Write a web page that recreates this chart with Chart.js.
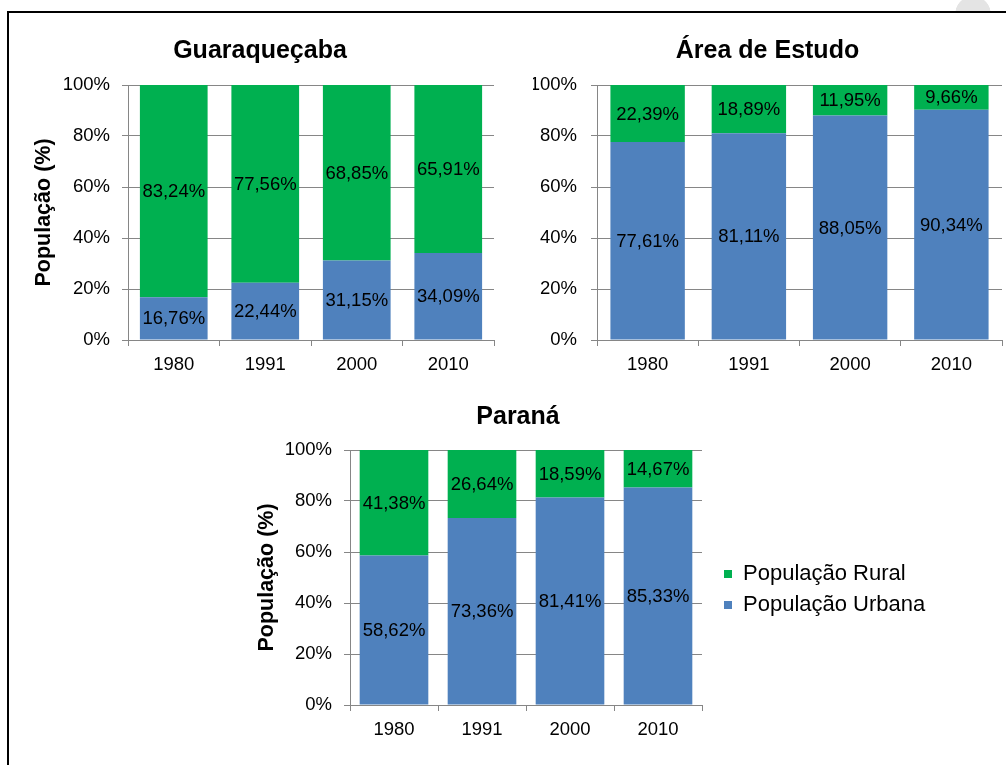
<!DOCTYPE html>
<html>
<head>
<meta charset="utf-8">
<script src="https://cdn.jsdelivr.net/npm/chart.js@4.4.1/dist/chart.umd.min.js"></script>
<style>
  html, body { margin: 0; padding: 0; background: #fff; }
  body { width: 1006px; height: 765px; position: relative; overflow: hidden; }
  #moldura { position: absolute; left: 7px; top: 11px; width: 1100px; height: 800px;
             border-left: 2px solid #000; border-top: 2px solid #000; }
  #canto { position: absolute; left: 950px; top: 0; width: 50px; height: 11px;
           background: radial-gradient(circle 18px at 23px 14px, #e4e4e4 97%, rgba(255,255,255,0) 100%); }
  canvas { position: absolute; }
</style>
</head>
<body>
<div id="moldura"></div>
<div id="canto"></div>
<canvas id="gGuara"></canvas>
<canvas id="gEstudo"></canvas>
<canvas id="gParana"></canvas>
<script>
// Anos censitários
const anos = ['1980', '1991', '2000', '2010'];

// Participação da população urbana e rural (%)
const guaraUrbana  = [16.76, 22.44, 31.15, 34.09];
const guaraRural   = [83.24, 77.56, 68.85, 65.91];
const estudoUrbana = [77.61, 81.11, 88.05, 90.34];
const estudoRural  = [22.39, 18.89, 11.95, 9.66];
const paranaUrbana = [58.62, 73.36, 81.41, 85.33];
const paranaRural  = [41.38, 26.64, 18.59, 14.67];

// Marcas do eixo vertical
const escalaY = [0, 20, 40, 60, 80, 100];

const FONTE = "'Liberation Sans', Arial, sans-serif";
const VERDE = '#00B050';
const AZUL = '#4F81BD';
const CINZA = '#868686';

const fmt = v => v.toFixed(2).replace('.', ',') + '%';

// Rótulos de valor centralizados em cada segmento da barra
const rotulosBarras = {
  id: 'rotulosBarras',
  afterDatasetsDraw(chart) {
    const ctx = chart.ctx;
    ctx.save();
    ctx.font = '18.5px ' + FONTE;
    ctx.fillStyle = '#000';
    ctx.textAlign = 'center';
    ctx.textBaseline = 'middle';
    chart.data.datasets.forEach((ds, i) => {
      chart.getDatasetMeta(i).data.forEach((bar, j) => {
        const { x, y, base } = bar.getProps(['x', 'y', 'base'], true);
        ctx.fillText(fmt(ds.data[j]), x, (y + base) / 2 + 1);
      });
    });
    ctx.restore();
  }
};

// Posiciona a legenda ao lado do gráfico do Paraná
const posicaoLegenda = {
  id: 'posicaoLegenda',
  beforeLayout(chart, args, opts) {
    const lg = chart.legend;
    if (lg && !lg._larguraFixa) {
      const fitOriginal = lg.fit.bind(lg);
      lg.fit = function () {
        fitOriginal();
        this.width = opts.reserva;
      };
      lg._larguraFixa = true;
    }
  },
  afterLayout(chart, args, opts) {
    const lg = chart.legend;
    lg.left = opts.x;
    lg.width = chart.width - opts.x;
    lg.right = chart.width;
    lg.top = opts.y;
    lg.bottom = opts.y + 100;
    lg.height = 100;
  }
};

function grafico(id, g) {
  const canvas = document.getElementById(id);
  canvas.width = g.w;
  canvas.height = g.h;
  canvas.style.left = g.x + 'px';
  canvas.style.top = g.y + 'px';

  const plugins = {
    title: {
      display: true, text: g.titulo, color: '#000',
      font: { family: FONTE, size: 25, weight: 'bold', lineHeight: 1.2 },
      padding: { top: g.tTop, bottom: g.tBot }
    },
    legend: { display: false },
    tooltip: { enabled: false }
  };
  if (g.legenda) {
    plugins.legend = {
      display: true, position: 'right', align: 'start', reverse: true,
      labels: { boxWidth: 8, boxHeight: 8, padding: 9, color: '#000',
                font: { family: FONTE, size: 22 } }
    };
    plugins.posicaoLegenda = g.legenda;
  }

  return new Chart(canvas, {
    type: 'bar',
    data: {
      labels: anos,
      datasets: [
        { label: 'População Urbana', data: g.urbana, backgroundColor: AZUL,
          borderWidth: 0, barPercentage: g.barra, categoryPercentage: 1 },
        { label: 'População Rural', data: g.rural, backgroundColor: VERDE,
          borderWidth: 0, barPercentage: g.barra, categoryPercentage: 1 }
      ]
    },
    options: {
      responsive: false,
      animation: false,
      devicePixelRatio: 1,
      events: [],
      layout: { padding: { left: g.padL, right: g.padR, top: 0, bottom: 0 } },
      plugins,
      scales: {
        x: {
          stacked: true,
          grid: { display: true, drawOnChartArea: false, drawTicks: true, tickLength: 6,
                  color: CINZA, offset: true },
          border: { display: true, color: CINZA },
          ticks: { color: '#000', font: { family: FONTE, size: 18.5 }, padding: 8 },
          afterFit: s => { s.height = g.h - g.area.b; }
        },
        y: {
          stacked: true, min: 0, max: 100,
          afterBuildTicks: s => { s.ticks = escalaY.map(v => ({ value: v })); },
          ticks: { callback: v => v + '%', color: '#000',
                   font: { family: FONTE, size: 18.5 }, padding: g.tickPad },
          grid: { color: CINZA, tickLength: 6 },
          border: { color: CINZA },
          title: g.tituloY
            ? { display: true, text: 'População (%)', color: '#000',
                font: { family: FONTE, size: 21.5, weight: 'bold', lineHeight: 1.2 },
                padding: { top: g.yTitPad, bottom: 0 } }
            : { display: false },
          afterFit: s => { s.width = g.area.l - g.padL; }
        }
      }
    },
    plugins: g.legenda ? [rotulosBarras, posicaoLegenda] : [rotulosBarras]
  });
}

grafico('gGuara', {
  x: 20, y: 20, w: 490, h: 360, padL: 6, padR: 16,
  area: { l: 108, b: 320 }, tTop: 16, tBot: 19,
  titulo: 'Guaraqueçaba', tituloY: true, yTitPad: 5.1, tickPad: 12,
  urbana: guaraUrbana, rural: guaraRural, barra: 0.74
});

grafico('gEstudo', {
  x: 510, y: 20, w: 496, h: 360, padL: 23, padR: 4,
  area: { l: 87, b: 320 }, tTop: 16, tBot: 19,
  titulo: 'Área de Estudo', tituloY: false, tickPad: 14,
  urbana: estudoUrbana, rural: estudoRural, barra: 0.735
});

grafico('gParana', {
  x: 240, y: 380, w: 760, h: 385, padL: 0, padR: 204,
  area: { l: 110, b: 325 }, tTop: 22, tBot: 18,
  titulo: 'Paraná', tituloY: true, yTitPad: 14.1, tickPad: 12,
  urbana: paranaUrbana, rural: paranaRural, barra: 0.78,
  legenda: { reserva: 94, x: 475, y: 174 }
});
</script>
</body>
</html>
